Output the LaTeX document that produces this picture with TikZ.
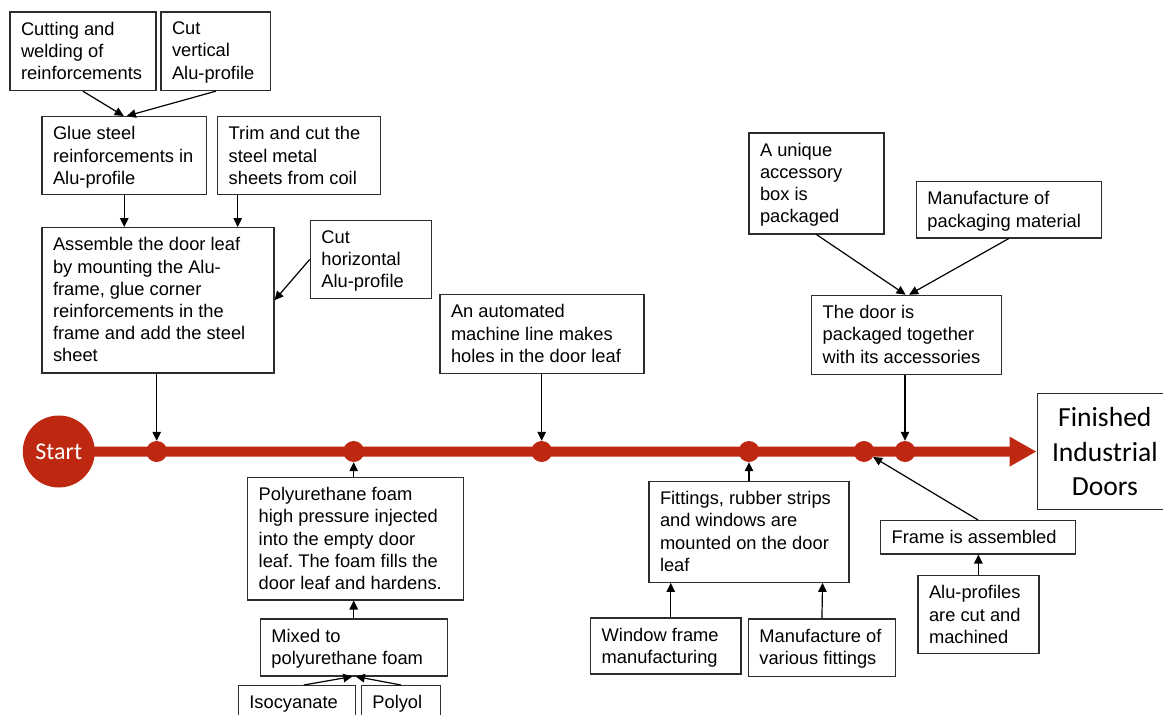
\documentclass[tikz,border=0pt]{standalone}
\usepackage{fontspec}
\setmainfont{Liberation Sans}
\newfontfamily\calibrifont{Carlito}
\usetikzlibrary{arrows.meta,calc}
\frenchspacing
\definecolor{tlred}{RGB}{190,40,16}
\definecolor{boxline}{RGB}{45,45,45}
\tikzset{
  box/.style={draw=boxline, line width=1.2pt, anchor=north west, inner sep=0pt},
  lbl/.style={anchor=north west, align=left, inner xsep=11.5pt, inner ysep=10.5pt,
              font=\fontsize{18.3}{22.2}\selectfont, text=black},
  conn/.style={draw=black, line width=1.2pt, -{Triangle[length=9pt,width=8.5pt]}},
  tldot/.style={circle, fill=tlred, minimum size=21pt, inner sep=0pt},
}
\newcommand\ProcBox[6]{%
  \node[box, minimum width={#4-#2}, minimum height={#5-#3},
        label={[lbl]north west:{#6}}] (#1) at (#2,#3) {};}
\begin{document}
\begin{tikzpicture}[x=1pt, y=-1pt]
\clip (0,0) rectangle (1163,715);
\fill[white] (0,0) rectangle (1163,715);

% boxes
\ProcBox{b1}{9.3}{11.3}{155.3}{90}{Cutting and\\welding of\\reinforcements}
\ProcBox{b2}{160.3}{11.3}{270}{90}{Cut\\vertical\\Alu-profile}
\ProcBox{b3}{41.3}{116}{206}{194}{Glue steel\\reinforcements in\\Alu-profile}
\ProcBox{b4}{217}{116}{379.7}{194}{Trim and cut the\\steel metal\\sheets from coil}
\ProcBox{b5}{41.3}{227}{273.3}{372.3}{Assemble the door leaf\\by mounting the Alu-\\frame, glue corner\\reinforcements in the\\frame and add the steel\\sheet}
\ProcBox{b6}{309.7}{220}{430.7}{297.7}{Cut\\horizontal\\Alu-profile}
\ProcBox{b7}{439.3}{294}{643.3}{372.7}{An automated\\machine line makes\\holes in the door leaf}
\ProcBox{b8}{748.3}{132.3}{883.3}{233.3}{A unique\\accessory\\box is\\packaged}
\ProcBox{b9}{915.7}{181}{1100.7}{237.3}{Manufacture of\\packaging material}
\ProcBox{b10}{811}{294.7}{1001}{374}{The door is\\packaged together\\with its accessories}
\ProcBox{b12}{880}{520}{1075}{553.3}{Frame is assembled}
\ProcBox{b13}{917.3}{575}{1038.3}{652.7}{Alu-profiles\\are cut and\\machined}
\ProcBox{b14}{648.3}{480.7}{848.3}{581.7}{Fittings, rubber strips\\and windows are\\mounted on the door\\leaf}
\ProcBox{b15}{590}{617.3}{740.3}{673.3}{Window frame\\manufacturing}
\ProcBox{b16}{747.7}{618.3}{895}{675.7}{Manufacture of\\various fittings}
\ProcBox{b17}{247}{476.7}{462.7}{599.3}{Polyurethane foam\\high pressure injected\\into the empty door\\leaf. The foam fills the\\door leaf and hardens.}
\ProcBox{b18}{259.7}{618.3}{446.7}{675.3}{Mixed to\\polyurethane foam}
\ProcBox{b19}{237.7}{685}{354.7}{730}{Isocyanate}
\ProcBox{b20}{360.7}{685}{440}{730}{Polyol}

\node[box, minimum width=135.5, minimum height=116, align=center,
      font=\calibrifont\fontsize{27.6}{34.2}\selectfont] (fin) at (1036.5,393)
      {Finished\\Industrial\\Doors};

% timeline
\node[circle, minimum size=72pt, inner sep=0pt] (start) at (58.8,451.5) {};
\draw[tlred, line width=10pt, -{Triangle[length=27pt,width=28pt]}] (start.center) -- (fin.west);
\node[tldot] (d1) at (156.7,451.5) {};
\node[tldot] (d2) at (353.7,451.5) {};
\node[tldot] (d3) at (541.7,451.5) {};
\node[tldot] (d4) at (749,451.5) {};
\node[tldot] (d5) at (864,451.5) {};
\node[tldot] (d6) at (905,451.5) {};
\node[circle, fill=tlred, minimum size=72pt, inner sep=0pt, text=white,
      font=\calibrifont\fontsize{24}{24}\selectfont] at (start) {Start};

% connectors
\draw[conn] (b1.south) -- ([xshift=-0.5]b3.north);
\draw[conn] (b2.south) -- ([xshift=2.5]b3.north);
\draw[conn] (b3.south) -- (b3.south |- b5.north);
\draw[conn] ([xshift=20.7]b4.south west) -- ([xshift=20.7]b4.south west |- b5.north);
\draw[conn] (b6.west) -- (b5.east);
\draw[conn] (d1.north |- b5.south) -- (d1.north);
\draw[conn] (d3.north |- b7.south) -- (d3.north);
\draw[conn] (d2.south |- b17.north) -- (d2.south);
\draw[conn] (d2.south |- b18.north) -- (d2.south |- b17.south);
\draw[conn] ([xshift=7]b19.north) -- ([xshift=-1.5]b18.south);
\draw[conn] (b20.north) -- ([xshift=2]b18.south);
\draw[conn] (d4.south |- b14.north) -- (d4.south);
\draw[conn] ([xshift=5]b15.north) -- ([xshift=5]b15.north |- b14.south);
\draw[conn] (b16.north) -- ([xshift=0.6]b16.north |- b14.south);
\draw[conn] (b12.north) -- (d5);
\draw[conn] (b13.north) -- (b13.north |- b12.south);
\draw[conn] (b8.south) -- ([xshift=-1]b10.north);
\draw[conn] (b9.south) -- ([xshift=2.5]b10.north);
\draw[conn] (d6.north |- b10.south) -- (d6.north);
\end{tikzpicture}
\end{document}
